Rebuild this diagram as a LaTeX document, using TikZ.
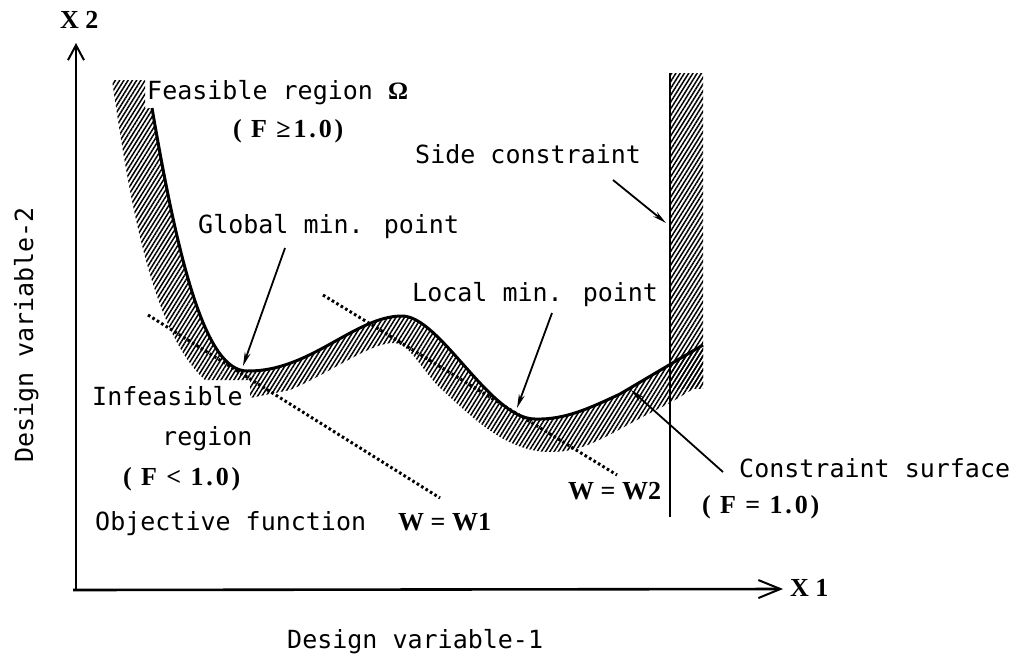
\documentclass[tikz,border=0pt]{standalone}
\usepackage{fontspec}
\setmainfont{DejaVu Sans Mono}
\newfontfamily\fser[LetterSpace=11]{Liberation Serif}
\newfontfamily\fserw{Liberation Serif}
\usetikzlibrary{arrows.meta,patterns.meta}
\tikzset{
  lbl/.style={font=\fontsize{25}{30}\selectfont, inner sep=0pt, anchor=base west},
  frm/.style={font=\fontsize{26}{30}\selectfont\fser\bfseries, inner sep=0pt, anchor=base west},
  frmw/.style={font=\fontsize{26}{30}\selectfont\fserw\bfseries, inner sep=0pt, anchor=base west},
  hatchfill/.style={pattern={Lines[angle=58,distance=3.6pt,line width=1.5pt]}, pattern color=black},
  wline/.style={line width=3pt, dash pattern=on 2.6pt off 2.6pt},
  ann/.style={line width=1.8pt, -{Stealth[length=14pt,width=6pt]}},
  axis/.style={line width=2.6pt},
}
\begin{document}
\begin{tikzpicture}[x=1pt,y=-1pt]
\path[use as bounding box, fill=white] (0,0) rectangle (1027,659);
% hatched bands
\path[hatchfill] (112,80) -- (145,80) -- (145,108) -- (152,108)
  .. controls (178,260) and (205,371) .. (247,371)
  .. controls (310,372) and (355,316) .. (402,316)
  .. controls (440,316) and (490,419) .. (535,419)
  .. controls (565,420) and (590,408) .. (620,394) -- (703,345)
  -- (703,383) -- (670,403)
  .. controls (610,432) and (590,452) .. (550,452)
  .. controls (505,452) and (470,415) .. (440,388)
  .. controls (420,368) and (410,343) .. (393,343)
  .. controls (370,343) and (330,373) .. (290,390) -- (250,398)
  -- (250,380) -- (205,380)
  .. controls (150,330) and (128,190) .. (112,80) -- cycle;
\path[hatchfill] (670,73) rectangle (703,388);
% constraint surface
\draw[line width=3pt] (152,108)
  .. controls (178,260) and (205,371) .. (247,371)
  .. controls (310,372) and (355,316) .. (402,316)
  .. controls (440,316) and (490,419) .. (535,419)
  .. controls (565,420) and (590,408) .. (620,394) -- (703,345);
% side constraint
\coordinate (sTop) at (670,73);
\coordinate (sBot) at (670,517);
\draw[axis] (sTop) -- (sBot);
% objective lines
\coordinate (w1a) at (148,315); \coordinate (w1b) at (440,498);
\coordinate (w2a) at (323,295); \coordinate (w2b) at (617,475);
\draw[wline] (w1a) -- (w1b);
\draw[wline] (w2a) -- (w2b);
% axes
\coordinate (O) at (76,590);
\coordinate (ytip) at (76,43);
\coordinate (xtip) at (783,589);
\draw[axis, -{Straight Barb[length=15pt,width=16pt,line width=2pt]}] (O) -- (ytip);
\draw[axis, -{Straight Barb[length=22pt,width=18pt,line width=2pt]}] (73,590) -- (xtip);
% labels
\node[frmw] (x2) at (60,28) {X 2};
\node[frmw] (x1) at (790,596) {X 1};
\node[lbl] (feas) at (147,99) {Feasible region {\fserw\bfseries Ω}};
\node[frm] (fge) at (233,137) {( F ≥1.0)};
\node[lbl] (side) at (415,163) {Side constraint};
\node[lbl] (glob) at (198,233) {Global min. point};
\node[lbl] (loc) at (412,301) {Local min. point};
\node[lbl] (inf) at (92,405) {Infeasible};
\node[lbl] (reg) at (162,445) {region};
\node[frm] (flt) at (123,485) {( F < 1.0)};
\node[lbl] (obj) at (95,530) {Objective function};
\node[frmw] (w1) at (398,530) {W = W1};
\node[frmw] (w2) at (568,499) {W = W2};
\node[lbl] (cs) at (739,477) {Constraint surface};
\node[frm] (feq) at (702,513) {( F = 1.0)};
\node[lbl] (dv1) at (287,648) {Design variable-1};
\node[lbl, rotate=90, anchor=base] (dv2) at (33,335) {Design variable-2};
% annotation arrows
\coordinate (gA) at (285,248); \coordinate (gB) at (243,366);
\coordinate (lA) at (552,313); \coordinate (lB) at (517,408);
\coordinate (sA) at (613,180); \coordinate (sB) at (666,223);
\coordinate (cA) at (723,472); \coordinate (cB) at (631,390);
\draw[ann] (gA) -- (gB);
\draw[ann] (lA) -- (lB);
\draw[ann] (sA) -- (sB);
\draw[ann] (cA) -- (cB);
\end{tikzpicture}
\end{document}
